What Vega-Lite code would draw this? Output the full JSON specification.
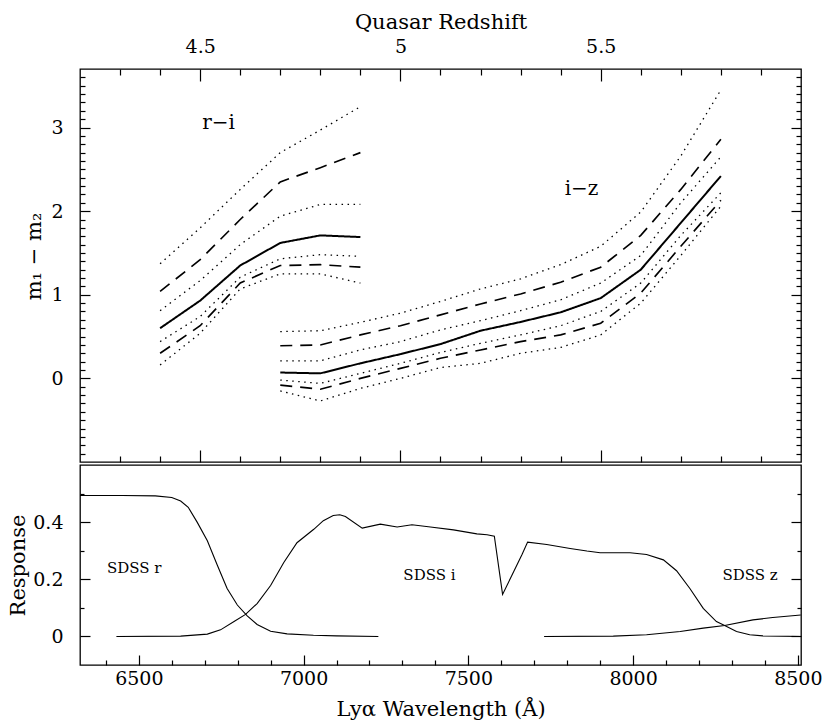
{
"$schema": "https://vega.github.io/schema/vega-lite/v6.json",
"background": "white",
"padding": {"left": 7, "top": 10, "right": 5, "bottom": 3},
"spacing": 0,
"config": {
 "font": "DejaVu Serif",
 "view": {"stroke": "black", "strokeWidth": 1.3},
 "axis": {"domain": false, "grid": false, "tickColor": "black", "tickWidth": 1.2, "labelColor": "black", "titleColor": "black", "labelFont": "DejaVu Serif", "titleFont": "DejaVu Serif", "labelFontSize": 19, "titleFontSize": 21, "titleFontWeight": "normal", "labelFlush": false, "labelOverlap": false}
},
"datasets": {
 "curves": [
  {"c":"ri1","s":"dot","z":4.4,"v":1.37},{"c":"ri1","s":"dot","z":4.5,"v":1.80},{"c":"ri1","s":"dot","z":4.6,"v":2.26},{"c":"ri1","s":"dot","z":4.7,"v":2.70},{"c":"ri1","s":"dot","z":4.8,"v":2.97},{"c":"ri1","s":"dot","z":4.9,"v":3.25},
  {"c":"ri2","s":"dash","z":4.4,"v":1.04},{"c":"ri2","s":"dash","z":4.5,"v":1.42},{"c":"ri2","s":"dash","z":4.6,"v":1.90},{"c":"ri2","s":"dash","z":4.7,"v":2.35},{"c":"ri2","s":"dash","z":4.8,"v":2.52},{"c":"ri2","s":"dash","z":4.9,"v":2.70},
  {"c":"ri3","s":"dot","z":4.4,"v":0.81},{"c":"ri3","s":"dot","z":4.5,"v":1.17},{"c":"ri3","s":"dot","z":4.6,"v":1.60},{"c":"ri3","s":"dot","z":4.7,"v":1.94},{"c":"ri3","s":"dot","z":4.8,"v":2.08},{"c":"ri3","s":"dot","z":4.9,"v":2.08},
  {"c":"ri4","s":"solid","z":4.4,"v":0.60},{"c":"ri4","s":"solid","z":4.5,"v":0.93},{"c":"ri4","s":"solid","z":4.6,"v":1.35},{"c":"ri4","s":"solid","z":4.7,"v":1.62},{"c":"ri4","s":"solid","z":4.8,"v":1.71},{"c":"ri4","s":"solid","z":4.9,"v":1.69},
  {"c":"ri5","s":"dot","z":4.4,"v":0.44},{"c":"ri5","s":"dot","z":4.5,"v":0.74},{"c":"ri5","s":"dot","z":4.6,"v":1.21},{"c":"ri5","s":"dot","z":4.7,"v":1.43},{"c":"ri5","s":"dot","z":4.8,"v":1.48},{"c":"ri5","s":"dot","z":4.9,"v":1.46},
  {"c":"ri6","s":"dash","z":4.4,"v":0.30},{"c":"ri6","s":"dash","z":4.5,"v":0.63},{"c":"ri6","s":"dash","z":4.6,"v":1.14},{"c":"ri6","s":"dash","z":4.7,"v":1.35},{"c":"ri6","s":"dash","z":4.8,"v":1.36},{"c":"ri6","s":"dash","z":4.9,"v":1.33},
  {"c":"ri7","s":"dot","z":4.4,"v":0.16},{"c":"ri7","s":"dot","z":4.5,"v":0.54},{"c":"ri7","s":"dot","z":4.6,"v":1.07},{"c":"ri7","s":"dot","z":4.7,"v":1.25},{"c":"ri7","s":"dot","z":4.8,"v":1.25},{"c":"ri7","s":"dot","z":4.9,"v":1.14},
  {"c":"iz1","s":"dot","z":4.7,"v":0.56},{"c":"iz1","s":"dot","z":4.8,"v":0.57},{"c":"iz1","s":"dot","z":4.9,"v":0.67},{"c":"iz1","s":"dot","z":5.0,"v":0.78},{"c":"iz1","s":"dot","z":5.1,"v":0.92},{"c":"iz1","s":"dot","z":5.2,"v":1.07},{"c":"iz1","s":"dot","z":5.3,"v":1.19},{"c":"iz1","s":"dot","z":5.4,"v":1.36},{"c":"iz1","s":"dot","z":5.5,"v":1.58},{"c":"iz1","s":"dot","z":5.6,"v":1.99},{"c":"iz1","s":"dot","z":5.7,"v":2.66},{"c":"iz1","s":"dot","z":5.8,"v":3.45},
  {"c":"iz2","s":"dash","z":4.7,"v":0.39},{"c":"iz2","s":"dash","z":4.8,"v":0.40},{"c":"iz2","s":"dash","z":4.9,"v":0.52},{"c":"iz2","s":"dash","z":5.0,"v":0.63},{"c":"iz2","s":"dash","z":5.1,"v":0.76},{"c":"iz2","s":"dash","z":5.2,"v":0.89},{"c":"iz2","s":"dash","z":5.3,"v":1.01},{"c":"iz2","s":"dash","z":5.4,"v":1.15},{"c":"iz2","s":"dash","z":5.5,"v":1.33},{"c":"iz2","s":"dash","z":5.6,"v":1.71},{"c":"iz2","s":"dash","z":5.7,"v":2.26},{"c":"iz2","s":"dash","z":5.8,"v":2.86},
  {"c":"iz3","s":"dot","z":4.7,"v":0.21},{"c":"iz3","s":"dot","z":4.8,"v":0.21},{"c":"iz3","s":"dot","z":4.9,"v":0.34},{"c":"iz3","s":"dot","z":5.0,"v":0.44},{"c":"iz3","s":"dot","z":5.1,"v":0.58},{"c":"iz3","s":"dot","z":5.2,"v":0.69},{"c":"iz3","s":"dot","z":5.3,"v":0.81},{"c":"iz3","s":"dot","z":5.4,"v":0.94},{"c":"iz3","s":"dot","z":5.5,"v":1.14},{"c":"iz3","s":"dot","z":5.6,"v":1.47},{"c":"iz3","s":"dot","z":5.7,"v":2.10},{"c":"iz3","s":"dot","z":5.8,"v":2.65},
  {"c":"iz4","s":"solid","z":4.7,"v":0.07},{"c":"iz4","s":"solid","z":4.8,"v":0.06},{"c":"iz4","s":"solid","z":4.9,"v":0.18},{"c":"iz4","s":"solid","z":5.0,"v":0.29},{"c":"iz4","s":"solid","z":5.1,"v":0.41},{"c":"iz4","s":"solid","z":5.2,"v":0.57},{"c":"iz4","s":"solid","z":5.3,"v":0.675},{"c":"iz4","s":"solid","z":5.4,"v":0.79},{"c":"iz4","s":"solid","z":5.5,"v":0.96},{"c":"iz4","s":"solid","z":5.6,"v":1.30},{"c":"iz4","s":"solid","z":5.7,"v":1.86},{"c":"iz4","s":"solid","z":5.8,"v":2.42},
  {"c":"iz5","s":"dot","z":4.7,"v":-0.02},{"c":"iz5","s":"dot","z":4.8,"v":-0.06},{"c":"iz5","s":"dot","z":4.9,"v":0.06},{"c":"iz5","s":"dot","z":5.0,"v":0.18},{"c":"iz5","s":"dot","z":5.1,"v":0.31},{"c":"iz5","s":"dot","z":5.2,"v":0.42},{"c":"iz5","s":"dot","z":5.3,"v":0.52},{"c":"iz5","s":"dot","z":5.4,"v":0.63},{"c":"iz5","s":"dot","z":5.5,"v":0.80},{"c":"iz5","s":"dot","z":5.6,"v":1.14},{"c":"iz5","s":"dot","z":5.7,"v":1.71},{"c":"iz5","s":"dot","z":5.8,"v":2.22},
  {"c":"iz6","s":"dash","z":4.7,"v":-0.08},{"c":"iz6","s":"dash","z":4.8,"v":-0.13},{"c":"iz6","s":"dash","z":4.9,"v":0.00},{"c":"iz6","s":"dash","z":5.0,"v":0.12},{"c":"iz6","s":"dash","z":5.1,"v":0.24},{"c":"iz6","s":"dash","z":5.2,"v":0.34},{"c":"iz6","s":"dash","z":5.3,"v":0.44},{"c":"iz6","s":"dash","z":5.4,"v":0.52},{"c":"iz6","s":"dash","z":5.5,"v":0.66},{"c":"iz6","s":"dash","z":5.6,"v":1.02},{"c":"iz6","s":"dash","z":5.7,"v":1.58},{"c":"iz6","s":"dash","z":5.8,"v":2.13},
  {"c":"iz7","s":"dot","z":4.7,"v":-0.15},{"c":"iz7","s":"dot","z":4.8,"v":-0.27},{"c":"iz7","s":"dot","z":4.9,"v":-0.12},{"c":"iz7","s":"dot","z":5.0,"v":0.00},{"c":"iz7","s":"dot","z":5.1,"v":0.13},{"c":"iz7","s":"dot","z":5.2,"v":0.18},{"c":"iz7","s":"dot","z":5.3,"v":0.30},{"c":"iz7","s":"dot","z":5.4,"v":0.37},{"c":"iz7","s":"dot","z":5.5,"v":0.52},{"c":"iz7","s":"dot","z":5.6,"v":0.90},{"c":"iz7","s":"dot","z":5.7,"v":1.47},{"c":"iz7","s":"dot","z":5.8,"v":2.06}
 ],
 "resp": [
  {"f":"r","wl":6321.5,"r":0.493},{"f":"r","wl":6450,"r":0.493},{"f":"r","wl":6550,"r":0.492},{"f":"r","wl":6600,"r":0.486},{"f":"r","wl":6627,"r":0.474},{"f":"r","wl":6650,"r":0.452},{"f":"r","wl":6677,"r":0.40},{"f":"r","wl":6708,"r":0.335},{"f":"r","wl":6738,"r":0.25},{"f":"r","wl":6768,"r":0.168},{"f":"r","wl":6799,"r":0.11},{"f":"r","wl":6829,"r":0.072},{"f":"r","wl":6859,"r":0.042},{"f":"r","wl":6900,"r":0.018},{"f":"r","wl":6950,"r":0.009},{"f":"r","wl":7030,"r":0.004},{"f":"r","wl":7100,"r":0.002},{"f":"r","wl":7227,"r":0.0},
  {"f":"i","wl":6432,"r":0.0},{"f":"i","wl":6627,"r":0.001},{"f":"i","wl":6708,"r":0.008},{"f":"i","wl":6748,"r":0.023},{"f":"i","wl":6789,"r":0.052},{"f":"i","wl":6824,"r":0.077},{"f":"i","wl":6859,"r":0.115},{"f":"i","wl":6900,"r":0.178},{"f":"i","wl":6940,"r":0.259},{"f":"i","wl":6980,"r":0.328},{"f":"i","wl":7031,"r":0.375},{"f":"i","wl":7060,"r":0.405},{"f":"i","wl":7090,"r":0.423},{"f":"i","wl":7110,"r":0.426},{"f":"i","wl":7127,"r":0.42},{"f":"i","wl":7178,"r":0.379},{"f":"i","wl":7233,"r":0.393},{"f":"i","wl":7284,"r":0.383},{"f":"i","wl":7329,"r":0.391},{"f":"i","wl":7385,"r":0.383},{"f":"i","wl":7455,"r":0.373},{"f":"i","wl":7526,"r":0.359},{"f":"i","wl":7557,"r":0.356},{"f":"i","wl":7579,"r":0.351},{"f":"i","wl":7604,"r":0.147},{"f":"i","wl":7632,"r":0.213},{"f":"i","wl":7663,"r":0.287},{"f":"i","wl":7680,"r":0.33},{"f":"i","wl":7738,"r":0.322},{"f":"i","wl":7809,"r":0.308},{"f":"i","wl":7860,"r":0.299},{"f":"i","wl":7900,"r":0.293},{"f":"i","wl":7991,"r":0.293},{"f":"i","wl":8041,"r":0.287},{"f":"i","wl":8092,"r":0.268},{"f":"i","wl":8132,"r":0.23},{"f":"i","wl":8173,"r":0.167},{"f":"i","wl":8213,"r":0.098},{"f":"i","wl":8253,"r":0.052},{"f":"i","wl":8278,"r":0.038},{"f":"i","wl":8314,"r":0.017},{"f":"i","wl":8354,"r":0.006},{"f":"i","wl":8394,"r":0.002},{"f":"i","wl":8509,"r":0.0},
  {"f":"z","wl":7730,"r":0.0},{"f":"z","wl":7940,"r":0.001},{"f":"z","wl":8041,"r":0.006},{"f":"z","wl":8143,"r":0.017},{"f":"z","wl":8213,"r":0.029},{"f":"z","wl":8278,"r":0.038},{"f":"z","wl":8364,"r":0.058},{"f":"z","wl":8424,"r":0.066},{"f":"z","wl":8509,"r":0.075}
 ],
 "toplab": [{"z":4.546,"v":3.05,"t":"r−i"},{"z":5.452,"v":2.26,"t":"i−z"}],
 "botlab": [{"wl":6486,"r":0.238,"t":"SDSS r"},{"wl":7382,"r":0.215,"t":"SDSS i"},{"wl":8355,"r":0.215,"t":"SDSS z"}]
},
"vconcat": [
 {
  "width": 721, "height": 393,
  "resolve": {"axis": {"x": "independent", "y": "independent"}},
  "layer": [
   {"data": {"name": "curves"}, "mark": {"type": "line", "color": "black"},
    "encoding": {
     "x": {"field": "z", "type": "quantitative", "scale": {"domain": [4.2, 6.0], "nice": false, "zero": false},
       "axis": {"orient": "top", "values": [4.5, 5, 5.5], "format": "~g", "tickSize": -12, "labelPadding": 25, "title": "Quasar Redshift", "titlePadding": 5}},
     "y": {"field": "v", "type": "quantitative", "scale": {"domain": [-1, 3.7], "nice": false, "zero": false},
       "axis": {"orient": "left", "values": [0, 1, 2, 3], "format": "~g", "tickSize": -10, "labelPadding": 27, "title": "m₁ − m₂", "titlePadding": 6, "titleY": 187}},
     "detail": {"field": "c", "type": "nominal"},
     "strokeDash": {"field": "s", "type": "nominal", "scale": {"domain": ["solid", "dash", "dot"], "range": [[1, 0], [12, 8], [1.5, 4.5]]}, "legend": null},
     "strokeWidth": {"field": "s", "type": "nominal", "scale": {"domain": ["solid", "dash", "dot"], "range": [2, 1.3, 1.5]}, "legend": null}
    }},
   {"data": {"name": "curves"}, "mark": {"type": "point", "opacity": 0},
    "encoding": {
     "x": {"field": "z", "type": "quantitative", "scale": {"domain": [4.2, 6.0], "nice": false, "zero": false},
       "axis": {"orient": "top", "values": [4.3,4.4,4.6,4.7,4.8,4.9,5.1,5.2,5.3,5.4,5.6,5.7,5.8,5.9], "tickSize": -6, "labels": false, "title": null}},
     "y": {"field": "v", "type": "quantitative", "scale": {"domain": [-1, 3.7], "nice": false, "zero": false},
       "axis": {"orient": "left", "values": [-0.9,-0.8,-0.7,-0.6,-0.5,-0.4,-0.3,-0.2,-0.1,0.1,0.2,0.3,0.4,0.5,0.6,0.7,0.8,0.9,1.1,1.2,1.3,1.4,1.5,1.6,1.7,1.8,1.9,2.1,2.2,2.3,2.4,2.5,2.6,2.7,2.8,2.9,3.1,3.2,3.3,3.4,3.5,3.6], "tickSize": -5, "labels": false, "title": null}}
    }},
   {"data": {"name": "curves"}, "mark": {"type": "point", "opacity": 0},
    "encoding": {
     "x": {"field": "z", "type": "quantitative", "scale": {"domain": [4.2, 6.0], "nice": false, "zero": false},
       "axis": {"orient": "bottom", "values": [4.5, 5, 5.5], "tickSize": -12, "labels": false, "title": null}},
     "y": {"field": "v", "type": "quantitative", "scale": {"domain": [-1, 3.7], "nice": false, "zero": false},
       "axis": {"orient": "right", "values": [0, 1, 2, 3], "tickSize": -10, "labels": false, "title": null}}
    }},
   {"data": {"name": "curves"}, "mark": {"type": "point", "opacity": 0},
    "encoding": {
     "x": {"field": "z", "type": "quantitative", "scale": {"domain": [4.2, 6.0], "nice": false, "zero": false},
       "axis": {"orient": "bottom", "values": [4.3,4.4,4.6,4.7,4.8,4.9,5.1,5.2,5.3,5.4,5.6,5.7,5.8,5.9], "tickSize": -6, "labels": false, "title": null}},
     "y": {"field": "v", "type": "quantitative", "scale": {"domain": [-1, 3.7], "nice": false, "zero": false},
       "axis": {"orient": "right", "values": [-0.9,-0.8,-0.7,-0.6,-0.5,-0.4,-0.3,-0.2,-0.1,0.1,0.2,0.3,0.4,0.5,0.6,0.7,0.8,0.9,1.1,1.2,1.3,1.4,1.5,1.6,1.7,1.8,1.9,2.1,2.2,2.3,2.4,2.5,2.6,2.7,2.8,2.9,3.1,3.2,3.3,3.4,3.5,3.6], "tickSize": -5, "labels": false, "title": null}}
    }},
   {"data": {"name": "toplab"}, "mark": {"type": "text", "fontSize": 20, "font": "DejaVu Serif", "color": "black"},
    "encoding": {
     "x": {"field": "z", "type": "quantitative", "axis": null},
     "y": {"field": "v", "type": "quantitative", "axis": null},
     "text": {"field": "t"}
    }}
  ]
 },
 {
  "width": 721, "height": 200,
  "resolve": {"axis": {"x": "independent", "y": "independent"}},
  "layer": [
   {"data": {"name": "resp"}, "mark": {"type": "line", "color": "black", "strokeWidth": 1.1},
    "encoding": {
     "x": {"field": "wl", "type": "quantitative", "scale": {"domain": [6321.5, 8509.7], "nice": false, "zero": false},
       "axis": {"orient": "bottom", "values": [6500, 7000, 7500, 8000, 8500], "format": "d", "tickSize": -10, "labelPadding": 14, "title": "Lyα Wavelength (Å)", "titlePadding": 10}},
     "y": {"field": "r", "type": "quantitative", "scale": {"domain": [-0.1, 0.6], "nice": false, "zero": false},
       "axis": {"orient": "left", "values": [0, 0.2, 0.4], "format": "~g", "tickSize": -10, "labelPadding": 27, "title": "Response", "titlePadding": 4}},
     "detail": {"field": "f", "type": "nominal"}
    }},
   {"data": {"name": "resp"}, "mark": {"type": "point", "opacity": 0},
    "encoding": {
     "x": {"field": "wl", "type": "quantitative", "axis": {"orient": "bottom", "values": [6400,6600,6700,6800,6900,7100,7200,7300,7400,7600,7700,7800,7900,8100,8200,8300,8400], "tickSize": -5, "labels": false, "title": null}},
     "y": {"field": "r", "type": "quantitative", "axis": {"orient": "left", "values": [0.1, 0.3, 0.5], "tickSize": -4, "labels": false, "title": null}}
    }},
   {"data": {"name": "resp"}, "mark": {"type": "point", "opacity": 0},
    "encoding": {
     "x": {"field": "wl", "type": "quantitative", "axis": null},
     "y": {"field": "r", "type": "quantitative", "axis": {"orient": "right", "values": [0, 0.2, 0.4], "tickSize": -10, "labels": false, "title": null}}
    }},
   {"data": {"name": "resp"}, "mark": {"type": "point", "opacity": 0},
    "encoding": {
     "x": {"field": "wl", "type": "quantitative", "axis": null},
     "y": {"field": "r", "type": "quantitative", "axis": {"orient": "right", "values": [0.1, 0.3, 0.5], "tickSize": -4, "labels": false, "title": null}}
    }},
   {"data": {"name": "botlab"}, "mark": {"type": "text", "fontSize": 15, "font": "DejaVu Serif", "color": "black"},
    "encoding": {
     "x": {"field": "wl", "type": "quantitative", "axis": null},
     "y": {"field": "r", "type": "quantitative", "axis": null},
     "text": {"field": "t"}
    }}
  ]
 }
]
}
